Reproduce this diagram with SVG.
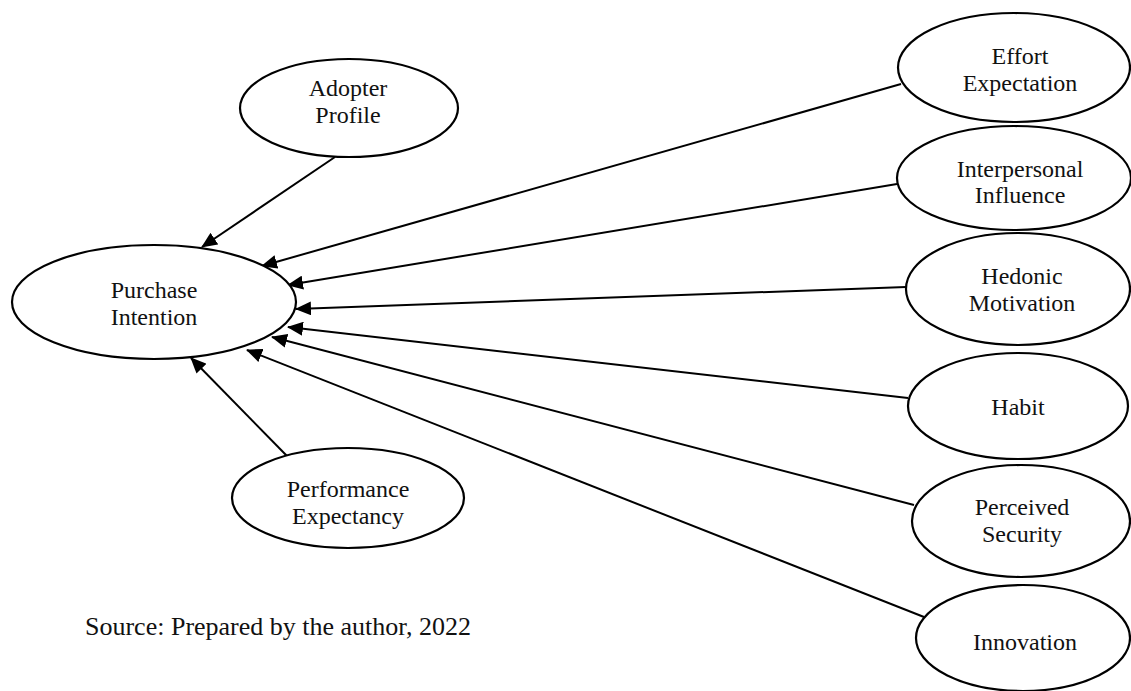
<svg xmlns="http://www.w3.org/2000/svg" width="1131" height="691" viewBox="0 0 1131 691">
<style>
.node ellipse{fill:#fff;stroke:#000;stroke-width:2.2}
text{font-family:"Liberation Serif","Times New Roman",serif;font-size:24px;fill:#111;text-anchor:middle}
.src{font-size:26px;text-anchor:start}
#connectors line{stroke:#000;stroke-width:2}
</style>
<defs>
<marker id="arr" markerWidth="16" markerHeight="14" refX="15" refY="7" orient="auto" markerUnits="userSpaceOnUse">
<path d="M0,0 L16,7 L0,14 Z" fill="#000"/>
</marker>
</defs>
<rect width="1131" height="691" fill="#fff"/>
<g id="connectors">
<line x1="335" y1="157" x2="202" y2="247" marker-end="url(#arr)"/>
<line x1="287" y1="456" x2="191" y2="358" marker-end="url(#arr)"/>
<line x1="901" y1="84" x2="262" y2="266" marker-end="url(#arr)"/>
<line x1="897" y1="184" x2="288" y2="285" marker-end="url(#arr)"/>
<line x1="906" y1="287" x2="296" y2="309" marker-end="url(#arr)"/>
<line x1="908" y1="398" x2="288" y2="327" marker-end="url(#arr)"/>
<line x1="914" y1="505" x2="272" y2="337" marker-end="url(#arr)"/>
<line x1="924" y1="617" x2="247" y2="350" marker-end="url(#arr)"/>
</g>
<g id="purchase-intention" class="node">
<ellipse cx="154" cy="302" rx="142" ry="57"/>
<text x="154" y="298">Purchase</text>
<text x="154" y="325">Intention</text>
</g>
<g id="adopter-profile" class="node">
<ellipse cx="349" cy="108" rx="109" ry="49"/>
<text x="348" y="96">Adopter</text>
<text x="348" y="123">Profile</text>
</g>
<g id="performance-expectancy" class="node">
<ellipse cx="348" cy="498" rx="116" ry="50"/>
<text x="348" y="497">Performance</text>
<text x="348" y="524">Expectancy</text>
</g>
<g id="effort-expectation" class="node">
<ellipse cx="1014" cy="67.5" rx="116" ry="54.5"/>
<text x="1020" y="64">Effort</text>
<text x="1020" y="91">Expectation</text>
</g>
<g id="interpersonal-influence" class="node">
<ellipse cx="1014" cy="178" rx="117" ry="52"/>
<text x="1020" y="177">Interpersonal</text>
<text x="1020" y="203">Influence</text>
</g>
<g id="hedonic-motivation" class="node">
<ellipse cx="1018" cy="289" rx="112" ry="56"/>
<text x="1022" y="284">Hedonic</text>
<text x="1022" y="311">Motivation</text>
</g>
<g id="habit" class="node">
<ellipse cx="1018" cy="406" rx="110" ry="53"/>
<text x="1018" y="415">Habit</text>
</g>
<g id="perceived-security" class="node">
<ellipse cx="1021" cy="521" rx="109" ry="56"/>
<text x="1022" y="515">Perceived</text>
<text x="1022" y="542">Security</text>
</g>
<g id="innovation" class="node">
<ellipse cx="1023" cy="638" rx="107" ry="53"/>
<text x="1025" y="650">Innovation</text>
</g>
<text class="src" x="85" y="635">Source: Prepared by the author, 2022</text>
</svg>
